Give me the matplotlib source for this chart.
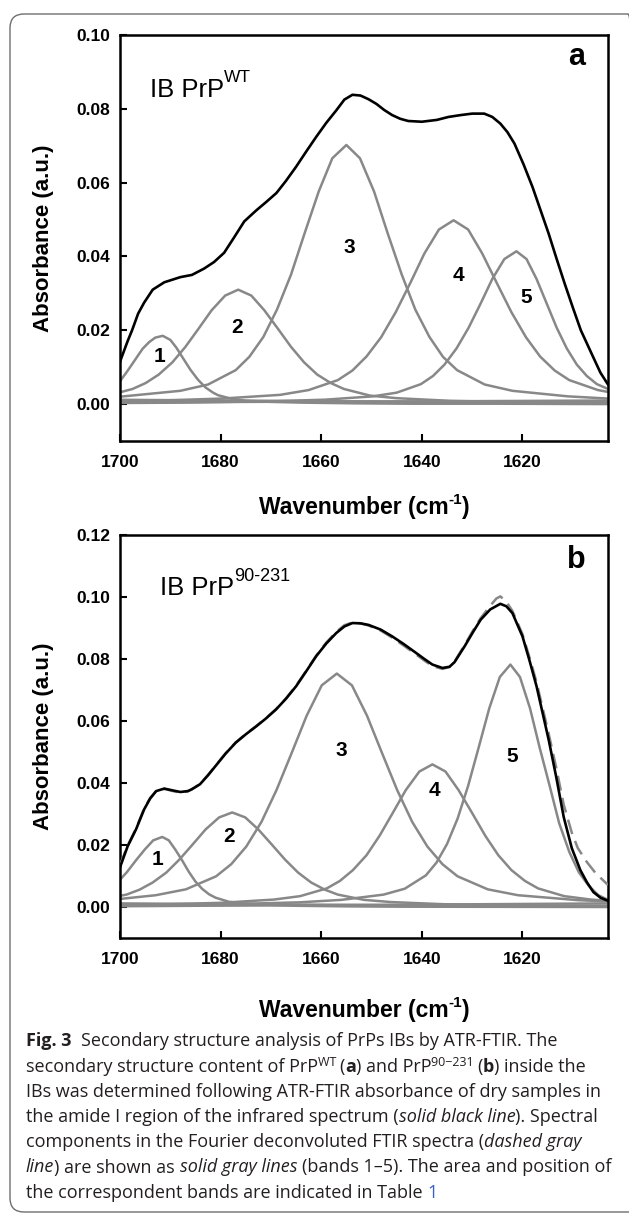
import matplotlib.pyplot as plt
from matplotlib.transforms import IdentityTransform
from matplotlib.patches import FancyBboxPatch
from matplotlib.ticker import FormatStrFormatter

plt.rcParams['font.family'] = ['Liberation Sans', 'DejaVu Sans']

W, H = 629, 1217

# ---------------- panel a (IB PrP WT) ----------------
a_black_x = [1700, 1698.5, 1697.6, 1696.4, 1695.2, 1693.5, 1691.2, 1688, 1685.7, 1683.3,
             1681.3, 1679.3, 1677.3, 1675.3, 1672.9, 1670.9, 1668.9, 1667, 1665, 1663,
             1661, 1659, 1657, 1655.4, 1653.8, 1652.2, 1650.6, 1649, 1647.5, 1645.9,
             1644.3, 1642.7, 1640, 1637, 1634.7, 1632.3, 1630, 1627.6, 1626, 1624.4,
             1623, 1621.6, 1619.8, 1618, 1616.4, 1614.8, 1613.2, 1611.6, 1610, 1608.4,
             1606, 1604.5, 1603]
a_black_y = [0.0115, 0.017, 0.020, 0.0245, 0.0275, 0.031, 0.033, 0.0344, 0.0350, 0.0367,
             0.0385, 0.0410, 0.0452, 0.0495, 0.0525, 0.0548, 0.0572, 0.0605, 0.0643, 0.0684,
             0.0724, 0.0762, 0.0796, 0.0825, 0.0838, 0.0836, 0.0826, 0.0813, 0.0797, 0.0783,
             0.0773, 0.0767, 0.0765, 0.0770, 0.0778, 0.0783, 0.0787, 0.0787, 0.0778, 0.0760,
             0.0737, 0.0706, 0.0650, 0.0588, 0.0525, 0.0462, 0.0393, 0.0326, 0.0262, 0.0200,
             0.0129, 0.0085, 0.0053]

a_b1_x = [1700, 1698.5, 1697, 1695.5, 1694.2, 1693, 1691.5, 1690, 1688.8, 1687.5, 1686,
          1684.5, 1683, 1681.5, 1680.5, 1678, 1675, 1670, 1664, 1653, 1642, 1625, 1603]
a_b1_y = [0.0062, 0.0090, 0.0120, 0.0150, 0.0168, 0.0180, 0.0185, 0.0174, 0.0153, 0.0125,
          0.0093, 0.0066, 0.0045, 0.0031, 0.0024, 0.0015, 0.0009, 0.0006, 0.0004, 0.0002,
          0.0001, 0.0001, 0.0000]

a_b2_x = [1700, 1697.5, 1694.9, 1692.3, 1689.6, 1687, 1684.4, 1681.8, 1679.1, 1676.5,
          1673.9, 1671.3, 1668.6, 1666, 1663.4, 1660.8, 1658.1, 1655.5, 1650.3, 1645,
          1634.5, 1624, 1603]
a_b2_y = [0.0032, 0.0041, 0.0057, 0.0080, 0.0113, 0.0155, 0.0204, 0.0254, 0.0294, 0.0310,
          0.0294, 0.0254, 0.0204, 0.0155, 0.0113, 0.0080, 0.0057, 0.0041, 0.0023, 0.0016,
          0.0009, 0.0006, 0.0003]

a_b3_x = [1700, 1688, 1682.5, 1677, 1674.3, 1671.5, 1668.8, 1666, 1663.3, 1660.5, 1657.8,
          1655, 1652.3, 1649.5, 1646.8, 1644, 1641.3, 1638.5, 1635.8, 1633, 1627.5, 1622,
          1611, 1603]
a_b3_y = [0.0020, 0.0036, 0.0053, 0.0092, 0.0128, 0.0182, 0.0256, 0.0351, 0.0463, 0.0576,
          0.0666, 0.0702, 0.0666, 0.0576, 0.0463, 0.0351, 0.0256, 0.0182, 0.0128, 0.0092,
          0.0053, 0.0036, 0.0021, 0.0015]

a_b4_x = [1700, 1691.2, 1679.7, 1668.2, 1662.5, 1656.7, 1653.8, 1651, 1648.1, 1645.2,
          1642.3, 1639.5, 1636.6, 1633.7, 1630.8, 1628, 1625.1, 1622.2, 1619.3, 1616.5,
          1613.6, 1610.7, 1605, 1603]
a_b4_y = [0.0007, 0.0010, 0.0015, 0.0025, 0.0038, 0.0065, 0.0091, 0.0129, 0.0181, 0.0249,
          0.0328, 0.0408, 0.0473, 0.0498, 0.0473, 0.0408, 0.0328, 0.0249, 0.0181, 0.0129,
          0.0091, 0.0065, 0.0038, 0.0033]

a_b5_x = [1700, 1687.7, 1668.7, 1659.2, 1649.7, 1645, 1640.2, 1637.8, 1635.5, 1633.1,
          1630.7, 1628.3, 1626, 1623.6, 1621.2, 1619.2, 1617.2, 1615.2, 1613.2, 1611.2,
          1609.2, 1607.2, 1605.2, 1603]
a_b5_y = [0.0003, 0.0004, 0.0008, 0.0012, 0.0021, 0.0031, 0.0054, 0.0076, 0.0107, 0.0151,
          0.0207, 0.0273, 0.0339, 0.0393, 0.0414, 0.0393, 0.0339, 0.0273, 0.0207, 0.0151,
          0.0107, 0.0076, 0.0054, 0.0041]

# ---------------- panel b (IB PrP 90-231) ----------------
b_black_x = [1700, 1698.5, 1696.8, 1695.2, 1694, 1692.8, 1691.2, 1689.5, 1688, 1686.5,
             1685.7, 1684.1, 1682.5, 1681, 1679, 1677, 1675, 1672.9, 1671, 1669, 1667,
             1665, 1663, 1661, 1659, 1657, 1655.4, 1653.8, 1652.2, 1650.6, 1648.2, 1645.9,
             1643.5, 1641.1, 1639.5, 1637.9, 1635.9, 1634.5, 1633.5, 1631.5, 1629.9,
             1628.3, 1626.4, 1624.4, 1623.2, 1622, 1620, 1618.6, 1617.2, 1614.8, 1613.3,
             1611.8, 1610.2, 1608.5, 1607.2, 1605.9, 1604.5, 1603]
b_black_y = [0.0128, 0.0195, 0.0251, 0.0315, 0.0350, 0.0374, 0.0382, 0.0376, 0.0371, 0.0374,
             0.0380, 0.0396, 0.0425, 0.0455, 0.0495, 0.0530, 0.0557, 0.0583, 0.0608, 0.0637,
             0.0672, 0.0712, 0.0760, 0.0809, 0.0850, 0.0884, 0.0905, 0.0916, 0.0915, 0.0910,
             0.0895, 0.0873, 0.0847, 0.0819, 0.0800, 0.0782, 0.0771, 0.0775, 0.0790, 0.0841,
             0.0885, 0.0927, 0.0960, 0.0978, 0.0970, 0.0948, 0.0873, 0.0795, 0.0712, 0.0540,
             0.0420, 0.0290, 0.0190, 0.0119, 0.0080, 0.0048, 0.0030, 0.0020]

b_dash_x = [1700, 1698.5, 1696.8, 1695.2, 1694, 1692.8, 1691.2, 1689.5, 1688, 1686.5,
            1685.7, 1684.1, 1682.5, 1681, 1679, 1677, 1675, 1672.9, 1671, 1669, 1667,
            1665, 1663, 1661, 1659, 1657, 1655.4, 1653.8, 1652.2, 1650.6, 1648.2, 1645.9,
            1643.5, 1641.1, 1639.5, 1637.9, 1635.9, 1634.5, 1633.5, 1631.5, 1629.9,
            1628.3, 1626.4, 1625.2, 1624.4, 1623.2, 1622, 1620, 1618.6, 1617.2, 1614.8,
            1613.3, 1611.8, 1610.2, 1609, 1607.2, 1605.5, 1603]
b_dash_y = [0.0135, 0.0198, 0.0254, 0.0318, 0.0352, 0.0375, 0.0381, 0.0374, 0.0369, 0.0373,
            0.0380, 0.0397, 0.0426, 0.0456, 0.0496, 0.0531, 0.0558, 0.0584, 0.0609, 0.0638,
            0.0673, 0.0714, 0.0762, 0.0811, 0.0853, 0.0888, 0.0909, 0.0918, 0.0915, 0.0908,
            0.0892, 0.0869, 0.0842, 0.0814, 0.0795, 0.0777, 0.0768, 0.0774, 0.0792, 0.0845,
            0.0890, 0.0932, 0.0972, 0.0995, 0.1002, 0.0985, 0.0955, 0.0880, 0.0805, 0.0725,
            0.0560, 0.0450, 0.0330, 0.0240, 0.0190, 0.0145, 0.0110, 0.0071]

b_b1_x = [1700, 1698.6, 1696.9, 1695.1, 1693.4, 1691.6, 1690.3, 1689, 1687.6, 1686.3,
          1685, 1683.7, 1682.3, 1681, 1678.4, 1675.7, 1670.4, 1665.1, 1654.6, 1643.6, 1603]
b_b1_y = [0.0088, 0.0113, 0.0149, 0.0185, 0.0215, 0.0226, 0.0215, 0.0185, 0.0149, 0.0113,
          0.0082, 0.0059, 0.0041, 0.0030, 0.0017, 0.0012, 0.0007, 0.0004, 0.0002, 0.0001,
          0.0000]

b_b2_x = [1700, 1698.7, 1696.1, 1693.5, 1690.8, 1688.2, 1685.6, 1683, 1680.3, 1677.7,
          1675.1, 1672.5, 1669.8, 1667.2, 1664.6, 1662, 1659.3, 1656.7, 1651.5, 1646.2,
          1635.7, 1625.2, 1603]
b_b2_y = [0.0036, 0.0040, 0.0056, 0.0079, 0.0111, 0.0153, 0.0201, 0.0250, 0.0289, 0.0305,
          0.0289, 0.0250, 0.0201, 0.0153, 0.0111, 0.0079, 0.0056, 0.0040, 0.0023, 0.0016,
          0.0009, 0.0006, 0.0003]

b_b3_x = [1700, 1692.9, 1686.9, 1680.9, 1677.9, 1674.9, 1671.9, 1668.9, 1665.9, 1662.9,
          1659.9, 1656.9, 1653.9, 1650.9, 1647.9, 1644.9, 1641.9, 1638.9, 1635.9, 1632.9,
          1626.9, 1620.9, 1608.9, 1603]
b_b3_y = [0.0026, 0.0038, 0.0057, 0.0099, 0.0138, 0.0195, 0.0274, 0.0377, 0.0496, 0.0617,
          0.0715, 0.0753, 0.0715, 0.0617, 0.0496, 0.0377, 0.0274, 0.0195, 0.0138, 0.0099,
          0.0057, 0.0038, 0.0022, 0.0018]

b_b4_x = [1700, 1690.4, 1679.9, 1669.4, 1664.2, 1658.9, 1656.3, 1653.7, 1651, 1648.4,
          1645.8, 1643.2, 1640.5, 1637.9, 1635.3, 1632.7, 1630, 1627.4, 1624.8, 1622.2,
          1619.5, 1616.9, 1611.7, 1606.4, 1603]
b_b4_y = [0.00065, 0.0009, 0.00135, 0.0024, 0.0035, 0.0060, 0.0084, 0.0119, 0.0167, 0.0230,
          0.0303, 0.0377, 0.0437, 0.0460, 0.0437, 0.0377, 0.0303, 0.0230, 0.0167, 0.0119,
          0.0084, 0.0060, 0.0035, 0.0024, 0.0020]

b_b5_x = [1700, 1681.2, 1664.4, 1656, 1647.6, 1643.4, 1639.2, 1637.1, 1635, 1632.9, 1630.8,
          1628.7, 1626.6, 1624.5, 1622.4, 1620.5, 1618.5, 1616.6, 1614.6, 1612.7, 1610.7,
          1608.8, 1606.8, 1604.9, 1603]
b_b5_y = [0.00045, 0.0008, 0.0015, 0.0023, 0.0040, 0.0059, 0.0102, 0.0143, 0.0203, 0.0285,
          0.0391, 0.0515, 0.0641, 0.0742, 0.0782, 0.0742, 0.0641, 0.0515, 0.0391, 0.0270,
          0.0178, 0.0112, 0.0068, 0.0038, 0.0023]

# near-zero baseline components
base_x = [1700, 1603]
a_base = [[0.0012, 0.0003], [0.0004, 0.0010], [0.0007, 0.0006]]
b_base = [[0.0012, 0.0002], [0.0002, 0.0012], [0.0006, 0.0005]]

band_names = ['1', '2', '3', '4', '5']
a_label_pos = [(1692.2, 0.0130), (1676.7, 0.0208), (1654.4, 0.0424), (1632.7, 0.0349), (1619.2, 0.0289)]
b_label_pos = [(1692.6, 0.0152), (1678.3, 0.0226), (1656.0, 0.0506), (1637.5, 0.0377), (1622.0, 0.0484)]

x_ticks = [1700, 1680, 1660, 1640, 1620]
a_yticks = [0.00, 0.02, 0.04, 0.06, 0.08, 0.10]
b_yticks = [0.00, 0.02, 0.04, 0.06, 0.08, 0.10, 0.12]

GRAY = '#888888'

fig = plt.figure(figsize=(W / 100, H / 100), dpi=100)

frame = FancyBboxPatch((10, 5), 632, 1198, boxstyle='round,pad=0,rounding_size=14',
                       transform=IdentityTransform(), facecolor='none',
                       edgecolor='#6e6e6e', linewidth=1.0)
fig.add_artist(frame)


def runs(x, y, parts, ha='left', **base):
    # draw a row of differently styled text pieces, y = baseline in pixels from top
    rend = fig.canvas.get_renderer()
    made, cur = [], 0.0
    for s, kw in parts:
        opts = {**base, **kw}
        rise = opts.pop('rise', 0)
        t = fig.text(0, 0, s, transform=IdentityTransform(), va='baseline', ha='left', **opts)
        p1 = fig.text(0, 0, s + 'x', transform=IdentityTransform(), **opts)
        p2 = fig.text(0, 0, 'x', transform=IdentityTransform(), **opts)
        w = p1.get_window_extent(rend).width - p2.get_window_extent(rend).width
        p1.remove()
        p2.remove()
        made.append((t, cur, rise))
        cur += w
    x0 = x - cur / 2 if ha == 'center' else x
    for t, off, rise in made:
        t.set_position((x0 + off, H - y + rise))


def panel(rect, ymax, yticks, black, bands, base, labels, dashed=None):
    ax = fig.add_axes(rect)
    for y0, y1 in base:
        ax.plot(base_x, [y0, y1], color=GRAY, lw=1.6, zorder=2)
    for bx, by in bands:
        ax.plot(bx, by, color=GRAY, lw=1.8, zorder=2)
    if dashed is not None:
        ax.plot(dashed[0], dashed[1], color=GRAY, lw=1.8, ls=(0, (6, 3)), zorder=3)
    ax.plot(black[0], black[1], color='black', lw=1.9, zorder=4)
    for name, (lx, ly) in zip(band_names, labels):
        ax.text(lx, ly, name, ha='center', va='center', fontsize=15, fontweight='bold')
    ax.set_xlim(1700, 1603)
    ax.set_ylim(-0.01, ymax)
    ax.set_xticks(x_ticks)
    ax.set_yticks(yticks)
    ax.yaxis.set_major_formatter(FormatStrFormatter('%.2f'))
    ax.tick_params(direction='in', length=5, width=1.5, top=False, right=False,
                   labelsize=12.5)
    ax.tick_params(axis='x', pad=10)
    ax.tick_params(axis='y', pad=7)
    for lab in ax.get_xticklabels() + ax.get_yticklabels():
        lab.set_fontweight('bold')
    for s in ax.spines.values():
        s.set_linewidth(1.8)
    return ax


ax_a = panel([120 / W, 1 - 441 / H, 488 / W, 406 / H], 0.10, a_yticks,
             (a_black_x, a_black_y),
             [(a_b1_x, a_b1_y), (a_b2_x, a_b2_y), (a_b3_x, a_b3_y), (a_b4_x, a_b4_y), (a_b5_x, a_b5_y)],
             a_base, a_label_pos)
ax_b = panel([120 / W, 1 - 938 / H, 488 / W, 403 / H], 0.12, b_yticks,
             (b_black_x, b_black_y),
             [(b_b1_x, b_b1_y), (b_b2_x, b_b2_y), (b_b3_x, b_b3_y), (b_b4_x, b_b4_y), (b_b5_x, b_b5_y)],
             b_base, b_label_pos, dashed=(b_dash_x, b_dash_y))

ax_a.text(0.953, 0.926, 'a', transform=ax_a.transAxes, ha='right', va='baseline',
          fontsize=22, fontweight='bold')
ax_b.text(0.955, 0.918, 'b', transform=ax_b.transAxes, ha='right', va='baseline',
          fontsize=22, fontweight='bold')

# y labels
fig.text(44, H - 238, 'Absorbance (a.u.)', transform=IdentityTransform(), rotation=90,
         ha='center', va='center', fontsize=16, fontweight='bold')
fig.text(44, H - 736, 'Absorbance (a.u.)', transform=IdentityTransform(), rotation=90,
         ha='center', va='center', fontsize=16, fontweight='bold')

# x labels
for yb in (514, 1017):
    runs(364, yb, [('Wavenumber (cm', {}), ('-1', {'fontsize': 11, 'rise': 10}), (')', {})],
         ha='center', fontsize=16.5, fontweight='bold')

# sample titles
runs(150, 97, [('IB PrP', {}), ('WT', {'fontsize': 12.5, 'rise': 15})], fontsize=18.5)
runs(160, 595, [('IB PrP', {}), ('90-231', {'fontsize': 13, 'rise': 14})], fontsize=18.5)

# caption
cap = dict(fontsize=13, family='Open Sans', color='#231f20')
n = {}
bf = {'fontweight': 'bold'}
it = {'style': 'italic'}
sup = {'fontsize': 9, 'rise': 6}
cap_lines = [
    [('Fig. 3  ', bf), ('Secondary structure analysis of PrPs IBs by ATR-FTIR. The', n)],
    [('secondary structure content of PrP', n), ('WT ', sup), ('(', n), ('a', bf),
     (') and PrP', n), ('90\u2212231 ', sup), ('(', n), ('b', bf), (') inside the', n)],
    [('IBs was determined following ATR-FTIR absorbance of dry samples in', n)],
    [('the amide I region of the infrared spectrum (', n), ('solid black line', it),
     ('). Spectral', n)],
    [('components in the Fourier deconvoluted FTIR spectra (', n), ('dashed gray', it)],
    [('line', it), (') are shown as ', n), ('solid gray lines ', it),
     ('(bands 1\u20135). The area and position of', n)],
    [('the correspondent bands are indicated in Table ', n), ('1', {'color': '#3a5fcd'})],
]
for i, parts in enumerate(cap_lines):
    runs(26, 1046.5 + 25.2 * i, parts, **cap)

fig.savefig('out.png', dpi=100)
